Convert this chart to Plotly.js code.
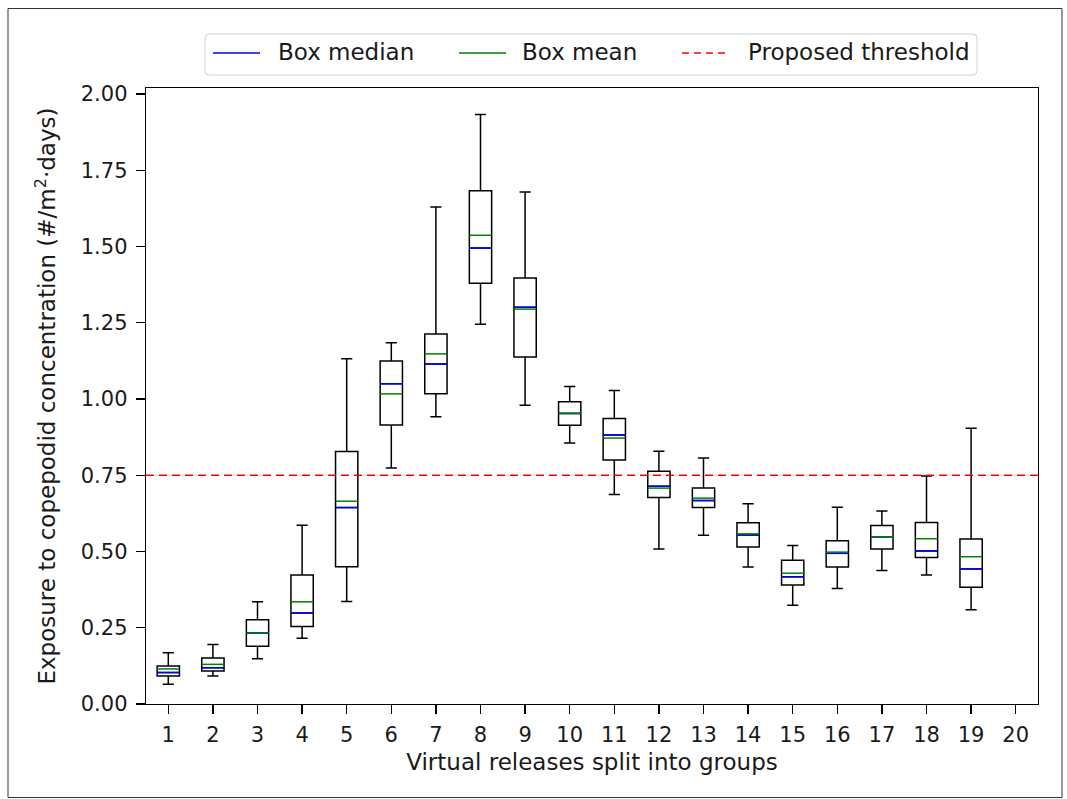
<!DOCTYPE html>
<html>
<head>
<meta charset="utf-8">
<script src="https://cdn.plot.ly/plotly-3.0.1.min.js"></script>
<style>
html,body{margin:0;padding:0;background:#fff;}
#chart{width:1067px;height:799px;}
</style>
</head>
<body>
<div id="chart"></div>
<script>
// ---- data ----
const groups      = [1,2,3,4,5,6,7,8,9,10,11,12,13,14,15,16,17,18,19];
const tickGroups  = [1,2,3,4,5,6,7,8,9,10,11,12,13,14,15,16,17,18,19,20];
const lowerWhisk  = [0.065,0.092,0.148,0.216,0.336,0.774,0.942,1.245,0.980,0.856,0.687,0.508,0.553,0.449,0.324,0.379,0.438,0.423,0.309];
const q1          = [0.092,0.108,0.189,0.254,0.450,0.915,1.017,1.380,1.138,0.914,0.800,0.677,0.644,0.515,0.390,0.449,0.508,0.480,0.383];
const medians     = [0.103,0.119,0.233,0.298,0.644,1.050,1.115,1.495,1.301,0.953,0.882,0.714,0.667,0.554,0.417,0.494,0.547,0.502,0.443];
const means       = [0.115,0.130,0.233,0.335,0.665,1.017,1.148,1.537,1.295,0.953,0.872,0.708,0.675,0.558,0.429,0.498,0.547,0.542,0.483];
const q3          = [0.125,0.151,0.276,0.423,0.828,1.125,1.213,1.683,1.397,0.991,0.936,0.763,0.708,0.594,0.471,0.535,0.585,0.595,0.541];
const upperWhisk  = [0.168,0.195,0.335,0.586,1.132,1.185,1.630,1.933,1.679,1.041,1.028,0.829,0.807,0.657,0.520,0.645,0.633,0.748,0.904];
const threshold   = 0.75;
const legendNames = ['Box median', 'Box mean', 'Proposed threshold'];
const legendColors = ['#0000ff', '#008000', '#ff0000'];

const boxWidth = 0.5;
const FONT = 'DejaVu Sans, sans-serif';

// plot-area geometry in pixels (for placing the hand-made legend)
const W = 1067, H = 799;
const M = {l: 146, r: 29, t: 88, b: 95};
const PW = W - M.l - M.r, PH = H - M.t - M.b;
const px = x => (x - M.l) / PW;          // pixel x -> paper x
const py = y => (H - M.b - y) / PH;      // pixel y -> paper y

function segs(vals){
  const xs = [], ys = [];
  groups.forEach((g,i)=>{
    xs.push(g - boxWidth/2, g + boxWidth/2, null);
    ys.push(vals[i], vals[i], null);
  });
  return {x: xs, y: ys};
}
const medSeg = segs(medians);
const meanSeg = segs(means);

const traces = [
  {
    type: 'box',
    x: groups,
    q1: q1, median: medians, q3: q3,
    lowerfence: lowerWhisk, upperfence: upperWhisk,
    width: boxWidth,
    whiskerwidth: 0.5,
    boxpoints: false,
    fillcolor: 'rgba(0,0,0,0)',
    line: {color: '#000000', width: 1.5},
    showlegend: false,
    hoverinfo: 'skip'
  },
  {
    type: 'scatter', mode: 'lines',
    x: medSeg.x, y: medSeg.y,
    name: legendNames[0], showlegend: false,
    line: {color: legendColors[0], width: 1.5},
    hoverinfo: 'skip'
  },
  {
    type: 'scatter', mode: 'lines',
    x: meanSeg.x, y: meanSeg.y,
    name: legendNames[1], showlegend: false,
    line: {color: legendColors[1], width: 1.5},
    hoverinfo: 'skip'
  },
  {
    type: 'scatter', mode: 'lines',
    x: [0.5, 20.5], y: [threshold, threshold],
    name: legendNames[2], showlegend: false,
    line: {color: legendColors[2], width: 1.5, dash: '8px,5px'},
    hoverinfo: 'skip'
  }
];

// ---- hand-made legend (matplotlib style) ----
const legBox = {x0: 205, x1: 977, y0: 34, y1: 75, r: 4};
const legLineX = [213, 459, 682];
const legTextX = [278, 522, 748];
const legLineLen = 47;
const legY = 53;

function roundedRectPath(b){
  const rx = b.r / PW, ry = b.r / PH;
  const X0 = px(b.x0), X1 = px(b.x1), Yt = py(b.y0), Yb = py(b.y1);
  return `M${X0+rx},${Yt} L${X1-rx},${Yt} Q${X1},${Yt} ${X1},${Yt-ry} ` +
         `L${X1},${Yb+ry} Q${X1},${Yb} ${X1-rx},${Yb} L${X0+rx},${Yb} ` +
         `Q${X0},${Yb} ${X0},${Yb+ry} L${X0},${Yt-ry} Q${X0},${Yt} ${X0+rx},${Yt} Z`;
}

const shapes = [
  // outer figure frame
  {type: 'rect', xref: 'paper', yref: 'paper',
   x0: px(8), x1: px(1062), y0: py(797.5), y1: py(8.5),
   line: {color: '#333333', width: 1}, fillcolor: 'rgba(0,0,0,0)', layer: 'below'},
  // legend frame
  {type: 'path', xref: 'paper', yref: 'paper', path: roundedRectPath(legBox),
   line: {color: '#d0d0d0', width: 1}, fillcolor: 'rgba(255,255,255,0.8)', layer: 'above'}
];
legendNames.forEach((n,i)=>{
  shapes.push({type: 'line', xref: 'paper', yref: 'paper',
    x0: px(legLineX[i]), x1: px(legLineX[i] + legLineLen), y0: py(legY), y1: py(legY),
    line: {color: legendColors[i], width: 1.5, dash: i === 2 ? '7px,5px' : 'solid'}, layer: 'above'});
});
const annotations = legendNames.map((n,i)=>({
  xref: 'paper', yref: 'paper', x: px(legTextX[i] - 2), y: py(legY - 1),
  xanchor: 'left', yanchor: 'middle', showarrow: false, text: n,
  font: {family: FONT, size: 23, color: '#1a1a1a'}
}));

const layout = {
  width: W, height: H,
  margin: {l: M.l, r: M.r, t: M.t, b: M.b, pad: 0},
  paper_bgcolor: '#ffffff', plot_bgcolor: '#ffffff',
  font: {family: FONT, color: '#000000', size: 21},
  showlegend: false,
  xaxis: {
    range: [0.5, 20.5],
    tickmode: 'array', tickvals: tickGroups, ticktext: tickGroups.map(String),
    ticks: 'outside', ticklen: 9, tickwidth: 1.3, tickcolor: '#000',
    ticklabelstandoff: 2,
    showline: true, mirror: true, linecolor: '#000', linewidth: 1.3,
    showgrid: false, zeroline: false,
    tickfont: {family: FONT, size: 21, color: '#1a1a1a'},
    title: {text: 'Virtual releases split into groups', font: {family: FONT, size: 23, color: '#1a1a1a'}, standoff: 8}
  },
  yaxis: {
    range: [0, 2.02],
    tickmode: 'linear', tick0: 0, dtick: 0.25, tickformat: '.2f',
    ticks: 'outside', ticklen: 9, tickwidth: 1.3, tickcolor: '#000',
    ticklabelstandoff: 4,
    showline: true, mirror: true, linecolor: '#000', linewidth: 1.3,
    showgrid: false, zeroline: false,
    tickfont: {family: FONT, size: 21, color: '#1a1a1a'},
    title: {text: 'Exposure to copepodid concentration (#/m<sup>2</sup>·days)', font: {family: FONT, size: 23, color: '#1a1a1a'}, standoff: 18}
  },
  shapes: shapes,
  annotations: annotations
};

Plotly.newPlot('chart', traces, layout, {displayModeBar: false, staticPlot: true});
</script>
</body>
</html>
